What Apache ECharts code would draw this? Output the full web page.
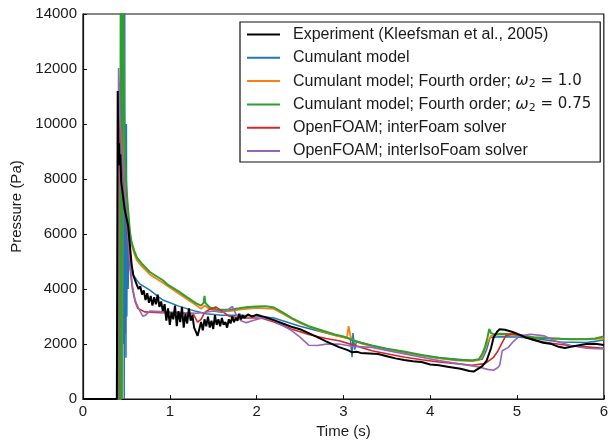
<!DOCTYPE html>
<html>
<head>
<meta charset="utf-8">
<script src="https://cdn.jsdelivr.net/npm/echarts@6/dist/echarts.min.js"></script>
<style>html,body{margin:0;padding:0;background:#fff}#c{width:611px;height:444px}</style>
</head>
<body>
<div id="c"></div>
<script>
// Tick values
const xTicks = [0, 1, 2, 3, 4, 5, 6];
const yTicks = [0, 2000, 4000, 6000, 8000, 10000, 12000, 14000];

// Series names (legend order)
const names = [
  'Experiment (Kleefsman et al., 2005)',
  'Cumulant model',
  'Cumulant model; Fourth order; ω2 = 1.0',
  'Cumulant model; Fourth order; ω2 = 0.75',
  'OpenFOAM; interFoam solver',
  'OpenFOAM; interIsoFoam solver'
];

// [time (s), pressure (Pa)]
const experiment = [
[0,0],[0.39,0],[0.395,0],[0.40,11200],[0.405,9800],[0.41,8600],[0.415,9300],[0.42,8500],[0.43,8900],[0.44,7900],[0.46,7400],[0.48,6900],[0.50,6600],[0.52,6300],[0.54,5600],[0.56,4900],[0.58,4500],[0.60,4450],[0.62,4150],[0.64,4000],[0.66,4100],[0.68,3800],[0.70,3950],[0.72,3600],[0.74,3850],[0.76,3500],[0.78,3750],[0.80,3400],[0.82,3700],[0.84,3450],[0.86,3800],[0.88,3350],[0.90,3550],[0.92,3200],[0.94,3450],[0.96,2850],[0.98,3300],[1.00,2700],[1.02,3150],[1.04,2900],[1.06,3400],[1.08,2650],[1.10,3200],[1.12,2800],[1.14,3350],[1.16,2600],[1.18,3100],[1.20,2750],[1.22,3300],[1.24,2850],[1.26,3050],[1.28,2600],[1.30,2450],[1.32,2300],[1.34,2550],[1.36,2800],[1.38,2500],[1.40,2900],[1.42,2650],[1.44,3000],[1.46,2600],[1.48,2850],[1.50,2550],[1.52,3050],[1.54,2700],[1.56,2900],[1.58,2650],[1.60,2950],[1.62,2700],[1.64,2800],[1.66,2600],[1.68,2900],[1.70,2750],[1.72,3000],[1.74,2800],[1.76,2950],[1.78,2850],[1.80,3100],[1.82,2900],[1.84,3050],[1.86,2950],[1.88,3000],[1.90,3080],[1.95,3000],[2.00,3070],[2.05,3020],[2.10,2980],[2.20,2870],[2.30,2750],[2.40,2630],[2.50,2540],[2.60,2400],[2.70,2250],[2.80,2100],[2.95,1890],[3.05,1780],[3.10,1700],[3.15,1720],[3.20,1680],[3.30,1660],[3.40,1640],[3.50,1560],[3.60,1480],[3.70,1420],[3.80,1380],[3.90,1350],[4.00,1260],[4.10,1230],[4.20,1180],[4.35,1100],[4.45,1020],[4.50,1000],[4.55,1100],[4.60,1200],[4.65,1400],[4.70,1850],[4.73,2240],[4.77,2450],[4.80,2540],[4.86,2520],[4.94,2450],[5.00,2380],[5.10,2240],[5.20,2150],[5.30,2050],[5.40,2000],[5.48,1900],[5.55,1860],[5.62,1900],[5.70,1950],[5.80,2000],[5.90,2010],[6.00,1970]
];
const cumulant = [
[0,0],[0.445,0],[0.455,16000],[0.465,2000],[0.47,10200],[0.475,0],[0.48,16000],[0.485,2400],[0.49,8300],[0.495,1500],[0.50,10000],[0.505,3000],[0.51,6500],[0.52,4000],[0.53,6000],[0.55,5000],[0.58,4500],[0.65,4200],[0.77,3960],[0.92,3600],[1.11,3370],[1.30,3190],[1.42,3100],[1.60,3050],[1.80,3050],[2.00,3020],[2.20,2950],[2.50,2650],[2.80,2400],[3.00,2250],[3.08,2200],[3.10,1520],[3.11,2400],[3.13,1800],[3.15,2100],[3.33,1940],[3.70,1680],[4.10,1500],[4.50,1400],[4.60,1450],[4.65,1800],[4.69,2240],[4.80,2270],[5.00,2260],[5.20,2200],[5.50,2080],[5.80,2060],[6.00,2150]
];
const fourth10 = [
[0,0],[0.43,0],[0.44,16000],[0.45,0],[0.46,16000],[0.47,10500],[0.48,8800],[0.50,7500],[0.52,6700],[0.54,6000],[0.56,5600],[0.59,5300],[0.62,5050],[0.67,4850],[0.77,4530],[0.92,4230],[1.11,3820],[1.30,3420],[1.36,3280],[1.40,3400],[1.46,3280],[1.55,3200],[1.69,3200],[1.80,3250],[2.00,3320],[2.20,3280],[2.30,3100],[2.50,2760],[2.70,2520],[2.90,2320],[3.04,2220],[3.06,2650],[3.08,2300],[3.10,2150],[3.20,2030],[3.33,1930],[3.50,1810],[3.71,1700],[3.90,1580],[4.10,1480],[4.30,1410],[4.48,1380],[4.56,1420],[4.60,1550],[4.65,2000],[4.70,2300],[4.80,2350],[5.00,2330],[5.20,2250],[5.50,2200],[5.80,2180],[6.00,2200]
];
const fourth075 = [
[0,0],[0.425,0],[0.435,16000],[0.445,0],[0.455,16000],[0.47,11000],[0.48,9000],[0.50,7700],[0.52,6860],[0.54,6100],[0.56,5700],[0.59,5400],[0.62,5150],[0.67,4950],[0.77,4620],[0.92,4320],[0.98,4150],[1.11,3900],[1.20,3700],[1.30,3490],[1.36,3400],[1.39,3500],[1.40,3750],[1.41,3500],[1.46,3330],[1.55,3250],[1.69,3250],[1.80,3300],[1.90,3350],[2.00,3370],[2.10,3380],[2.20,3330],[2.30,3150],[2.40,2950],[2.50,2800],[2.60,2650],[2.70,2550],[2.80,2450],[2.90,2350],[3.00,2280],[3.10,2150],[3.20,2050],[3.33,1950],[3.50,1830],[3.71,1720],[3.90,1600],[4.10,1500],[4.30,1430],[4.48,1400],[4.56,1450],[4.60,1650],[4.63,1880],[4.66,2250],[4.68,2550],[4.70,2400],[4.73,2360],[4.80,2380],[4.96,2360],[5.19,2240],[5.40,2200],[5.62,2180],[5.80,2180],[5.90,2200],[6.00,2280]
];
const interFoam = [
[0,0],[0.405,0],[0.415,11500],[0.42,10500],[0.46,8290],[0.50,6620],[0.535,4960],[0.57,4000],[0.60,3550],[0.63,3300],[0.71,3170],[0.90,3140],[1.10,3130],[1.27,3100],[1.32,2800],[1.36,2900],[1.40,3140],[1.45,3250],[1.53,3350],[1.60,3200],[1.69,3000],[1.85,2950],[2.00,2950],[2.07,2930],[2.20,2800],[2.40,2550],[2.60,2350],[2.80,2200],[2.95,2120],[3.10,1980],[3.33,1760],[3.50,1650],[3.71,1520],[3.90,1430],[4.10,1350],[4.30,1290],[4.48,1230],[4.63,1290],[4.73,1520],[4.78,1750],[4.82,2000],[4.87,2300],[4.96,2380],[5.05,2300],[5.19,2140],[5.40,2030],[5.62,1940],[5.80,1900],[6.00,1850]
];
const interIsoFoam = [
[0,0],[0.40,0],[0.41,12040],[0.43,10000],[0.46,8500],[0.50,6800],[0.535,5100],[0.57,4100],[0.60,3600],[0.64,3300],[0.69,3010],[0.72,3050],[0.77,3200],[0.90,3180],[1.10,3150],[1.30,3120],[1.40,3150],[1.50,3200],[1.60,3150],[1.65,3200],[1.72,3370],[1.76,3100],[1.82,2850],[1.88,2780],[1.95,2850],[2.07,2960],[2.20,2850],[2.40,2500],[2.50,2250],[2.60,1960],[2.70,1950],[2.80,2000],[2.95,2000],[3.10,1920],[3.33,1880],[3.60,1700],[3.90,1520],[4.10,1400],[4.30,1300],[4.56,1170],[4.66,1080],[4.73,1050],[4.78,1150],[4.80,1230],[4.83,1760],[4.90,1880],[4.96,2100],[5.03,2300],[5.16,2360],[5.31,2300],[5.45,2100],[5.62,1950],[5.80,1850],[6.00,1820]
];

const FONT = '"Liberation Sans", Arial, sans-serif';
const chart = echarts.init(document.getElementById('c'), null, {renderer: 'canvas'});

function line(name, data, color, width, z) {
  return {
    name: name, type: 'line', data: data, symbol: 'none', showSymbol: false,
    clip: true, z: z, animation: false,
    lineStyle: {color: color, width: width}, itemStyle: {color: color}
  };
}

chart.setOption({
  animation: false,
  backgroundColor: '#fff',
  grid: {left: 83, right: 5, top: 14, bottom: 38, show: true, borderColor: '#111', borderWidth: 1.2, backgroundColor: 'transparent'},
  legend: {
    data: names,
    orient: 'vertical',
    left: 240, top: 22,
    padding: [3.5, 9, 2, 7],
    itemGap: 5.3,
    icon: 'rect',
    itemWidth: 33, itemHeight: 2,
    borderColor: '#111', borderWidth: 1.2,
    textStyle: {fontFamily: FONT, fontSize: 16, color: '#1a1a1a', lineHeight: 18, padding: [0, 0, 0, 8],
      rich: {
        w: {fontFamily: '"DejaVu Sans"', fontStyle: 'italic', fontSize: 16, lineHeight: 18, color: '#1a1a1a'},
        s: {fontFamily: '"DejaVu Sans"', fontSize: 11, lineHeight: 12, verticalAlign: 'bottom', color: '#1a1a1a'},
        m: {fontFamily: '"DejaVu Sans"', fontSize: 15, lineHeight: 18, color: '#1a1a1a'}
      }
    },
    formatter: function (n) {
      const m = n.match(/^(.*)ω2 = (.*)$/);
      if (m) return m[1] + '{w|ω}{s|2}{m| = ' + m[2] + '}';
      return n;
    }
  },
  xAxis: {
    type: 'value', min: xTicks[0], max: xTicks[xTicks.length - 1], interval: 1,
    name: 'Time (s)', nameLocation: 'middle', nameGap: 23,
    nameTextStyle: {fontFamily: FONT, fontSize: 15, color: '#1a1a1a'},
    axisLine: {show: true, lineStyle: {color: '#111', width: 1.2}},
    axisTick: {show: true, inside: true, length: 4, lineStyle: {color: '#111', width: 1}},
    axisLabel: {fontFamily: FONT, fontSize: 15, color: '#1a1a1a', margin: 5, formatter: function (v) { return String(v); }},
    splitLine: {show: false}
  },
  yAxis: {
    type: 'value', min: yTicks[0], max: yTicks[yTicks.length - 1], interval: 2000,
    name: 'Pressure (Pa)', nameLocation: 'middle', nameGap: 50,
    nameTextStyle: {fontFamily: FONT, fontSize: 15, color: '#1a1a1a'},
    axisLine: {show: true, lineStyle: {color: '#111', width: 1.2}},
    axisTick: {show: true, inside: true, length: 4, lineStyle: {color: '#111', width: 1}},
    axisLabel: {fontFamily: FONT, fontSize: 15, color: '#1a1a1a', margin: 6, formatter: function (v) { return String(v); }},
    splitLine: {show: false}
  },
  series: [
    line(names[1], cumulant, '#1f77b4', 1.5, 2),
    line(names[2], fourth10, '#ff7f0e', 1.8, 3),
    line(names[3], fourth075, '#2ca02c', 2, 4),
    line(names[4], interFoam, '#d62728', 1.6, 5),
    line(names[5], interIsoFoam, '#9467bd', 1.6, 6),
    line(names[0], experiment, '#000000', 2, 7)
  ]
});
</script>
</body>
</html>
